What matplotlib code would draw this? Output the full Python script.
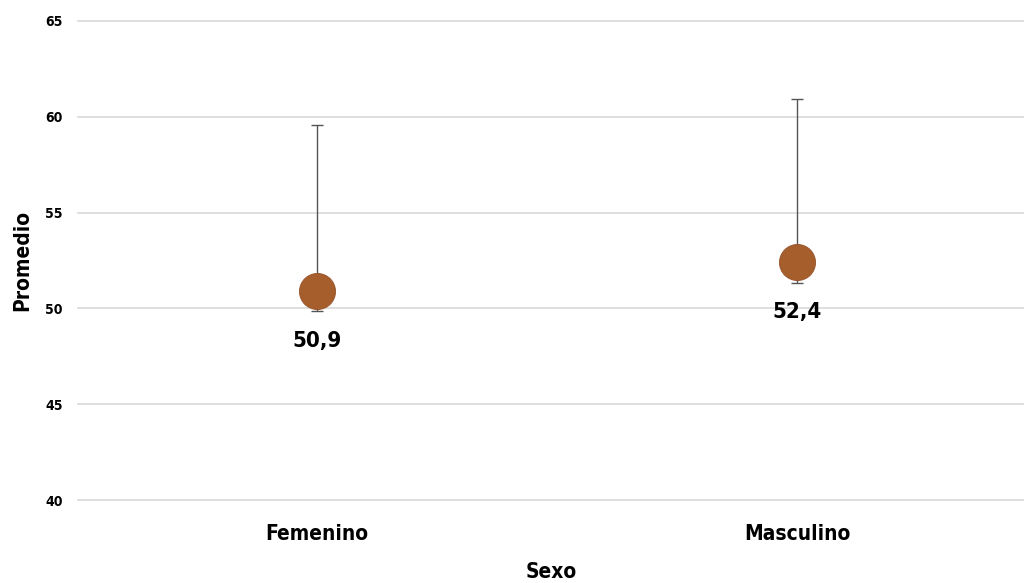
import matplotlib
matplotlib.use("Agg")
import matplotlib.pyplot as plt
import numpy as np

# Data
categories = ["Femenino", "Masculino"]
means = [50.9, 52.4]
lower = [49.85, 51.35]
upper = [59.55, 60.95]
mean_labels = ["50,9", "52,4"]
y_ticks = [40, 45, 50, 55, 60, 65]

plt.rcParams['font.family'] = ['DejaVu Sans']
plt.rcParams['font.stretch'] = 'condensed'

fig = plt.figure(figsize=(10.24, 5.83), dpi=100)
ax = fig.add_axes([78 / 1024, 1 - 500 / 583, 1 - 78 / 1024, (500 - 21) / 583])

x = np.arange(len(categories))
means_a = np.array(means)
yerr = np.vstack([means_a - np.array(lower), np.array(upper) - means_a])

# error bars sit behind the mean markers
ax.errorbar(x, means_a, yerr=yerr, fmt='none', ecolor='#555555',
            elinewidth=1.0, capsize=4.3, capthick=1.0, zorder=3)
ax.plot(x, means_a, 'o', markersize=26, markerfacecolor='#A65E2C',
        markeredgecolor='#96522A', markeredgewidth=0.6, zorder=4)

for xi, m, lab in zip(x, means, mean_labels):
    ax.annotate(lab, (xi, m), xytext=(0, -36), textcoords='offset points',
                ha='center', va='center', fontsize=16, fontweight='bold',
                color='black', zorder=5)

ax.set_ylim(40, 65)
ax.set_xlim(-0.498, 1.473)
ax.set_yticks(y_ticks)
ax.set_yticklabels([str(t) for t in y_ticks], fontsize=10, fontweight='bold')
ax.set_xticks(x)
ax.set_xticklabels(categories, fontsize=15, fontweight='bold')
ax.tick_params(axis='both', length=0)
ax.tick_params(axis='y', pad=11)
ax.tick_params(axis='x', pad=17)
ax.grid(axis='y', color='#d9d9d9', linewidth=1.2, zorder=0)
for gl in ax.get_ygridlines():
    gl.set_clip_on(False)
ax.set_axisbelow(True)
for s in ax.spines.values():
    s.set_visible(False)

ax.set_ylabel("Promedio", fontsize=15, fontweight='bold', va='center')
ax.yaxis.set_label_coords((22 - 78) / 946, 0.5)
ax.set_xlabel("Sexo", fontsize=15, fontweight='bold', va='center')
ax.xaxis.set_label_coords((551 - 78) / 946, (500 - 572) / 479)

fig.savefig("out.png", dpi=100, facecolor='white')
